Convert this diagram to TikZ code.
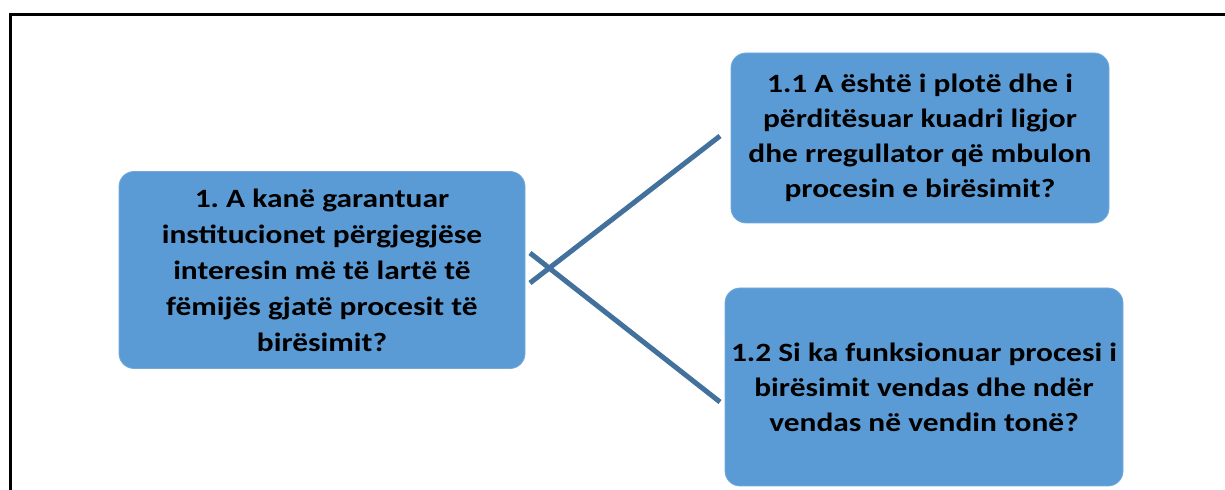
\documentclass[tikz,border=0pt]{standalone}
\usepackage{fontspec}
\setmainfont{Carlito}[FakeStretch=1.19]
\usepackage{tikz}
\usetikzlibrary{positioning}
\definecolor{boxblue}{RGB}{91,155,213}
\definecolor{linkblue}{RGB}{65,113,156}

\tikzset{
  qbox/.style={rectangle, rounded corners=7.5pt, fill=boxblue, draw=boxblue!85!white,
    line width=0.4pt, inner sep=0pt, align=center,
    font=\fontsize{13.2pt}{18pt}\selectfont\bfseries\frenchspacing},
  link/.style={linkblue, line width=2.5pt}
}

\begin{document}
\begin{tikzpicture}[x=0.5pt, y=-0.5pt]
\useasboundingbox (0,0) rectangle (1225,490);
% -- frame --
\draw[black, line width=1.5pt] (1225,15) -- (10,15) -- (10,490);
% -- questions --
\node[qbox, minimum width=203pt, minimum height=98.5pt] (q1) at (322,270)
  {1. A kanë garantuar\\institucionet përgjegjëse\\interesin më të lartë të\\fëmijës gjatë procesit të\\birësimit?};
\node[qbox, minimum width=189pt, minimum height=85pt, font=\fontsize{13.2pt}{17.5pt}\selectfont\bfseries] (q11) at (920,138)
  {1.1 A është i plotë dhe i\\përditësuar kuadri ligjor\\dhe rregullator që mbulon\\procesin e birësimit?};
\node[qbox, minimum width=199pt, minimum height=99pt, font=\fontsize{13.2pt}{17.5pt}\selectfont\bfseries] (q12) at (924,387)
  {1.2 Si ka funksionuar procesi i\\birësimit vendas dhe ndër\\vendas në vendin tonë?};
% -- crossing links --
\coordinate (a1) at (530,283);
\coordinate (b1) at (720,136);
\coordinate (a2) at (530,253);
\coordinate (b2) at (720,402);
\draw[link] (a1) -- (b1);
\draw[link] (a2) -- (b2);
\end{tikzpicture}
\end{document}
